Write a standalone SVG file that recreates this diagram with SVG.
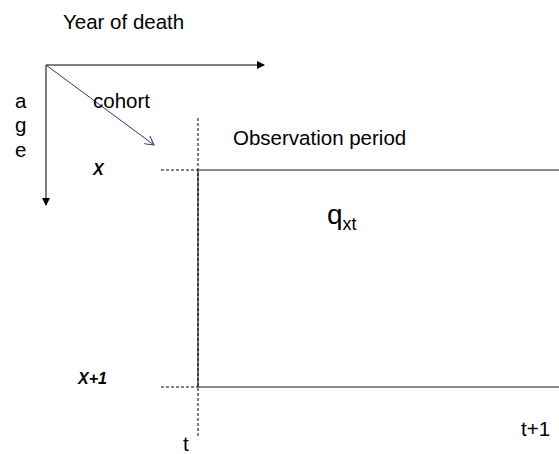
<svg xmlns="http://www.w3.org/2000/svg" width="559" height="454" viewBox="0 0 559 454">
<style>
text{font-family:"Liberation Sans",Arial,sans-serif;fill:#000}
.lbl{font-size:20.5px}
.ax{stroke:#000;stroke-width:1;fill:none}
.dash{stroke:#000;stroke-width:1;stroke-dasharray:3,2;fill:none}
.edge{stroke:#666;stroke-width:1.3;fill:none}
.bi{font-size:16px;font-weight:bold;font-style:italic}
</style>
<defs>
<marker id="ah" markerWidth="8" markerHeight="8" refX="7" refY="4" orient="auto" markerUnits="userSpaceOnUse">
<path d="M0,0 L8,4 L0,8 z" fill="#000"/>
</marker>
<marker id="oh" markerWidth="10" markerHeight="10" refX="9" refY="5" orient="auto" markerUnits="userSpaceOnUse">
<path d="M0,0 L9,5 L0,10" fill="none" stroke="#1f3a7a" stroke-width="1"/>
</marker>
</defs>
<g id="connectors">
<line class="ax" x1="46" y1="65" x2="264" y2="65" marker-end="url(#ah)"/>
<line class="ax" x1="46" y1="65" x2="46" y2="205" marker-end="url(#ah)"/>
<line x1="46" y1="65" x2="154" y2="145" stroke="#1f3a7a" stroke-width="1" marker-end="url(#oh)"/>
<line class="dash" x1="198" y1="118" x2="198" y2="438"/>
<line class="dash" x1="161" y1="170" x2="198" y2="170"/>
<line class="dash" x1="161" y1="387" x2="198" y2="387"/>
<line class="edge" x1="198" y1="170" x2="559" y2="170"/>
<line class="edge" x1="198" y1="387" x2="559" y2="387"/>
<line class="ax" x1="198" y1="170" x2="198" y2="387"/>
</g>
<g id="labels">
<text class="lbl" x="63" y="29">Year of death</text>
<text class="lbl" x="15" y="108">a</text>
<text class="lbl" x="15" y="132">g</text>
<text class="lbl" x="15" y="157">e</text>
<text class="lbl" x="93" y="108">cohort</text>
<text class="lbl" x="233" y="145">Observation period</text>
<text class="bi" x="93" y="175">X</text>
<text class="bi" x="78" y="384">X+1</text>
<text x="327" y="224" font-size="28">q<tspan font-size="18" dy="6">xt</tspan></text>
<text class="lbl" x="183" y="451">t</text>
<text class="lbl" x="521" y="436">t+1</text>
</g>
</svg>
